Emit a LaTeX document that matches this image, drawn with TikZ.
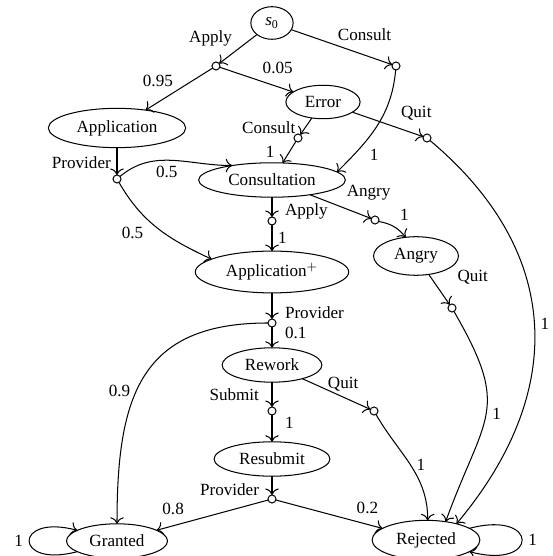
\documentclass[tikz,border=0pt]{standalone}
\usepackage{fontspec}
\setmainfont{Liberation Serif}
\usetikzlibrary{shapes.geometric, arrows.meta}
\tikzset{state/.style={ellipse, draw=black, inner xsep=4.8pt, inner ysep=3.6pt, outer sep=0pt},
  act/.style={circle, draw=black, fill=white, inner sep=0pt, minimum size=4.7pt, outer sep=0pt}}
\begin{document}
\begin{tikzpicture}[x=0.585pt, y=0.585pt, line width=0.6pt, >={To[scale=1.3]}]
\useasboundingbox (0,0) rectangle (553,556);
% states
\node[state](s0) at (272,533){\textit{s}\textsubscript{0}};
\node[state](err) at (323,454){Error};
\node[state](app) at (117,428){Application};
\node[state](cons) at (272,376){Consultation};
\node[state](angry) at (416,300){Angry};
\node[state](appp) at (272,284){Application$^+$};
\node[state](rework) at (272,191){Rework};
\node[state](resub) at (272,97){Resubmit};
\node[state](granted) at (117,15){Granted};
\node[state](rejected) at (426,16){Rejected};
% actions
\node[act](aapply) at (216,490){};
\node[act](aconsult) at (396,490){};
\node[act](aprova) at (117,377){};
\node[act](aconse) at (298,418){};
\node[act](aquite) at (427,418){};
\node[act](aapplyc) at (272,335){};
\node[act](aangry) at (375,336){};
\node[act](aquita) at (452,248){};
\node[act](aprovp) at (272,233){};
\node[act](asubmit) at (272,145){};
\node[act](aquitr) at (374,145){};
\node[act](aprovr) at (272,57){};
% transitions
\draw[->](s0)--node[above left,yshift=-2pt]{Apply}(aapply);
\draw[->](s0)--node[above right,yshift=-2pt,pos=.4]{Consult}(aconsult);
\draw[->](aapply)--node[above left,yshift=-2pt]{0.95}(app);
\draw[->](aapply)--node[above right]{0.05}(err);
\draw[->](err)--node[left=2pt,pos=.6]{Consult}(aconse);
\draw[->](aconse)--node[left=5pt]{1}(cons);
\draw[->](err)--node[above right,pos=.6]{Quit}(aquite);
\draw[->](aconsult) to[out=-95,in=45] node[right=6pt,pos=.82]{1}(cons.7);
\draw[->](aquite) to[out=-40,in=50,looseness=1.15] node[right]{1}(rejected.28);
\draw[->](app)--node[left,pos=.55]{Provider}(aprova);
\draw[->](aprova) to[out=40,in=180] node[below,pos=.45]{0.5}(cons.160);
\draw[->](aprova) to[out=-60,in=155] node[below left,pos=.4]{0.5}(appp.168);
\draw[->](cons)--node[right=4pt,pos=.7]{Apply}(aapplyc);
\draw[->](aapplyc)--node[right]{1}(appp);
\draw[->](cons)--node[above right]{Angry}(aangry);
\draw[->](aangry) to[bend left=20] node[above right]{1}(angry);
\draw[->](angry)--node[right=12pt,pos=.1]{Quit}(aquita);
\draw[->](aquita) to[out=-60,in=70,looseness=1.4] node[right]{1}(rejected.43);
\draw[->](appp)--node[right=4pt,pos=.75]{Provider}(aprovp);
\draw[->](aprovp)--node[right=4pt,pos=.3]{0.1}(rework);
\draw[->](aprovp) to[out=180,in=90,looseness=1.3] node[left,pos=.57]{0.9}(granted);
\draw[->](rework)--node[left=4pt]{Submit}(asubmit);
\draw[->](asubmit)--node[right=4pt,pos=.3]{1}(resub);
\draw[->](rework)--node[above,pos=.6]{Quit}(aquitr);
\draw[->](aquitr) to[out=-60,in=90] node[right]{1}(rejected.85);
\draw[->](resub)--node[left=4pt,pos=.7]{Provider}(aprovr);
\draw[->](aprovr)--node[above left,pos=.7]{0.8}(granted);
\draw[->](aprovr)--node[above right,pos=.7]{0.2}(rejected);
\draw[->](granted) to[loop left] node[left]{1}(granted);
\draw[->](rejected) to[loop right] node[right]{1}(rejected);
\end{tikzpicture}
\end{document}
